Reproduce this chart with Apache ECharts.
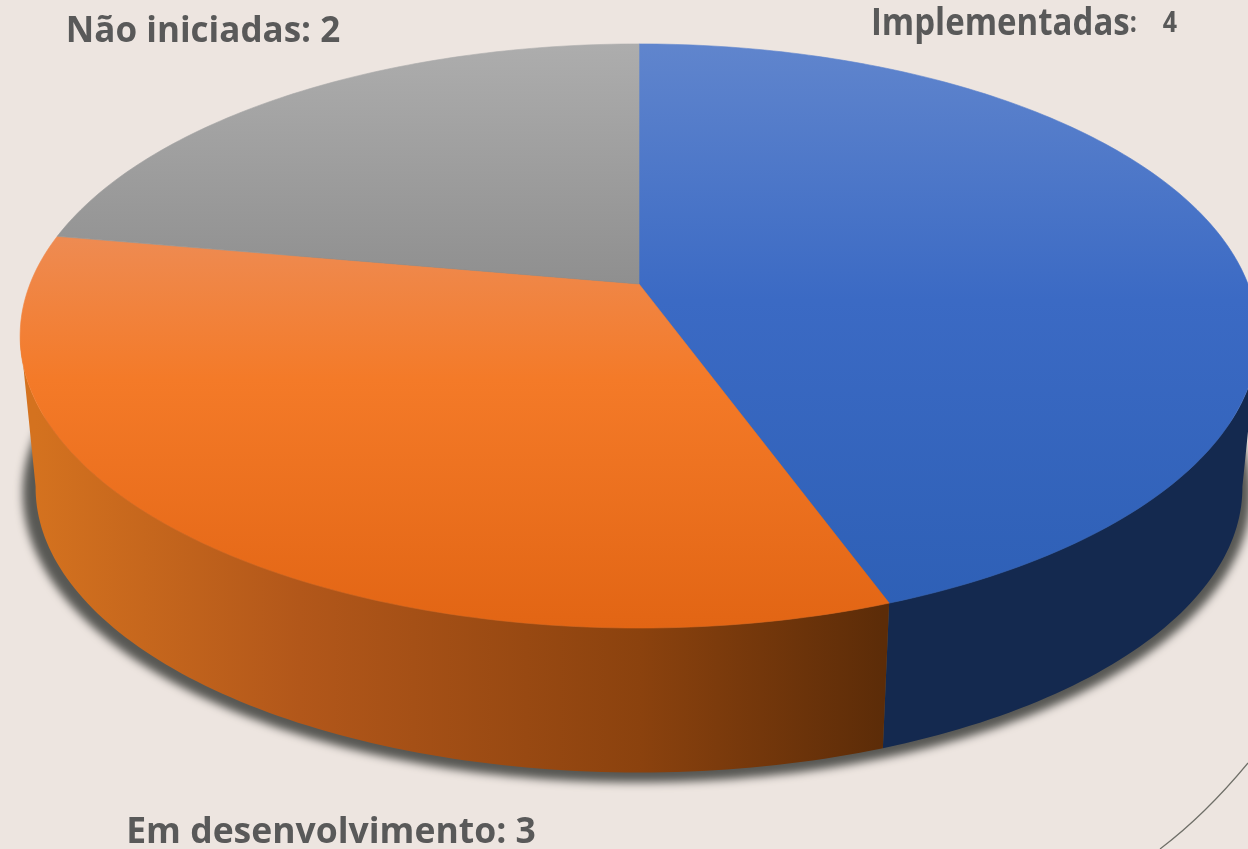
<!DOCTYPE html>
<html>
<head>
<meta charset="utf-8">
<style>html,body{margin:0;padding:0;background:#ede5e0}#main{width:1248px;height:849px}</style>
<script src="https://cdn.jsdelivr.net/npm/echarts@6/dist/echarts.min.js"></script>
</head>
<body>
<div id="main"></div>
<script>
var categories = ['Implementadas', 'Em desenvolvimento', 'Não iniciadas'];
var values = [4, 3, 2];

// top face colours, stops are global y positions in the picture
var topStops = [
    [[44, '#6085cd'], [300, '#3b6ac4'], [628, '#2d5fb5']],
    [[237, '#ee8b52'], [380, '#f47a28'], [628, '#e26514']],
    [[44, '#adadad'], [284, '#8f8f8f']]
];
// side wall colours, stops are global x positions
var sideStops = [
    [[883, '#14294f'], [1258, '#14294f']],
    [[35, '#d4721f'], [300, '#b2571a'], [640, '#8b420e'], [883, '#5c2c08']],
    null
];
var labelPos = [[1024, 24], [331, 833], [203, 32]];
var labelSize = [33, 35.5, 35];
var labelStretch = [1.12, 1, 1];

var chartDom = document.getElementById('main');
var myChart = echarts.init(chartDom);

// the disc is a circle seen in perspective, so the centre sits above the middle of the ellipse
var cx = 639, cy = 284, radX = 609, radY = 282.8, persp = 0.178;
var wallDrop = 153, wallScale = 0.975;
var sideFrom = 100, sideTo = 260;   // angles where the wall is tangent to the outline
var shadowGrow = 1.018, shadowShift = 4;
var offCanvas = 3000;   // shape is drawn off canvas so only its blurred shadow lands on the picture

var total = values.reduce(function (a, b) { return a + b; }, 0);

function project(deg, lower) {
    var a = deg * Math.PI / 180;
    var u = Math.sin(a), v = -Math.cos(a);
    var w = 1 / (1 - persp * v);
    var s = lower ? wallScale : 1;
    return [cx + radX * u * w * s, cy + (lower ? wallDrop : 0) + radY * v * w * s];
}

function arcPoints(from, to, lower) {
    var pts = [];
    var n = Math.ceil(Math.abs(to - from));
    for (var i = 0; i <= n; i++) {
        pts.push(project(from + (to - from) * i / n, lower));
    }
    return pts;
}

function sliceAngles(idx) {
    var start = 0;
    for (var i = 0; i < idx; i++) {
        start += values[i];
    }
    return [start / total * 360, (start + values[idx]) / total * 360];
}

function stops(list, lo, hi) {
    return list.map(function (s) {
        return { offset: (s[0] - lo) / (hi - lo), color: s[1] };
    });
}

function renderShadow() {
    var pts = arcPoints(0, 360, true).map(function (p) {
        return [
            cx + (p[0] - cx) * shadowGrow - offCanvas,
            cy + wallDrop + (p[1] - cy - wallDrop) * shadowGrow + shadowShift
        ];
    });
    return {
        type: 'polygon',
        shape: { points: pts },
        style: {
            fill: '#000',
            shadowBlur: 8,
            shadowOffsetX: offCanvas - 2,
            shadowOffsetY: 0,
            shadowColor: 'rgb(88,88,84)'
        }
    };
}

function renderSide(params) {
    var idx = params.dataIndex;
    var ang = sliceAngles(idx);
    var from = Math.max(ang[0], sideFrom), to = Math.min(ang[1], sideTo);
    if (!sideStops[idx] || from >= to) {
        return { type: 'group', children: [] };
    }
    var list = sideStops[idx];
    var lo = list[0][0], hi = list[list.length - 1][0];
    return {
        type: 'polygon',
        shape: { points: arcPoints(from, to, false).concat(arcPoints(to, from, true)) },
        style: { fill: new echarts.graphic.LinearGradient(lo, 0, hi, 0, stops(list, lo, hi), true) }
    };
}

function renderTop(params) {
    var idx = params.dataIndex;
    var ang = sliceAngles(idx);
    var list = topStops[idx];
    var lo = list[0][0], hi = list[list.length - 1][0];
    var fill = new echarts.graphic.LinearGradient(0, lo, 0, hi, stops(list, lo, hi), true);
    return {
        type: 'polygon',
        shape: { points: [[cx, cy]].concat(arcPoints(ang[0], ang[1], false)) },
        // thin stroke closes the seam between neighbouring slices
        style: { fill: fill, stroke: fill, lineWidth: 0.6 }
    };
}

function renderLabel(params) {
    var idx = params.dataIndex;
    // only the first label has a smaller value after the name
    var text = idx === 0
        ? '{n|' + categories[idx] + '}{v|:    ' + values[idx] + '}'
        : '{n|' + categories[idx] + ': ' + values[idx] + '}';
    return {
        type: 'text',
        x: labelPos[idx][0],
        y: labelPos[idx][1],
        scaleY: labelStretch[idx],
        style: {
            text: text,
            align: 'center',
            verticalAlign: 'middle',
            rich: {
                n: { fontFamily: 'Open Sans', fontWeight: 'bold', fontSize: labelSize[idx], fill: '#595959' },
                v: { fontFamily: 'Open Sans', fontWeight: 'bold', fontSize: 25, fill: '#595959' }
            }
        }
    };
}

var seriesData = values.map(function (v, i) { return { name: categories[i], value: v }; });

option = {
    backgroundColor: '#ede5e0',
    animation: false,
    graphic: [{
        type: 'bezierCurve',
        shape: { x1: 1248, y1: 763, x2: 1160, y2: 849, cpx1: 1205, cpy1: 815 },
        style: { fill: 'none', stroke: '#6f6f68', lineWidth: 1.2 }
    }],
    series: [
        { type: 'custom', coordinateSystem: 'none', z: 1, silent: true, data: [0], renderItem: renderShadow },
        { type: 'custom', coordinateSystem: 'none', z: 2, data: seriesData, renderItem: renderSide },
        { type: 'custom', coordinateSystem: 'none', z: 3, data: seriesData, renderItem: renderTop },
        { type: 'custom', coordinateSystem: 'none', z: 4, data: seriesData, renderItem: renderLabel }
    ]
};

myChart.setOption(option);
</script>
</body>
</html>
